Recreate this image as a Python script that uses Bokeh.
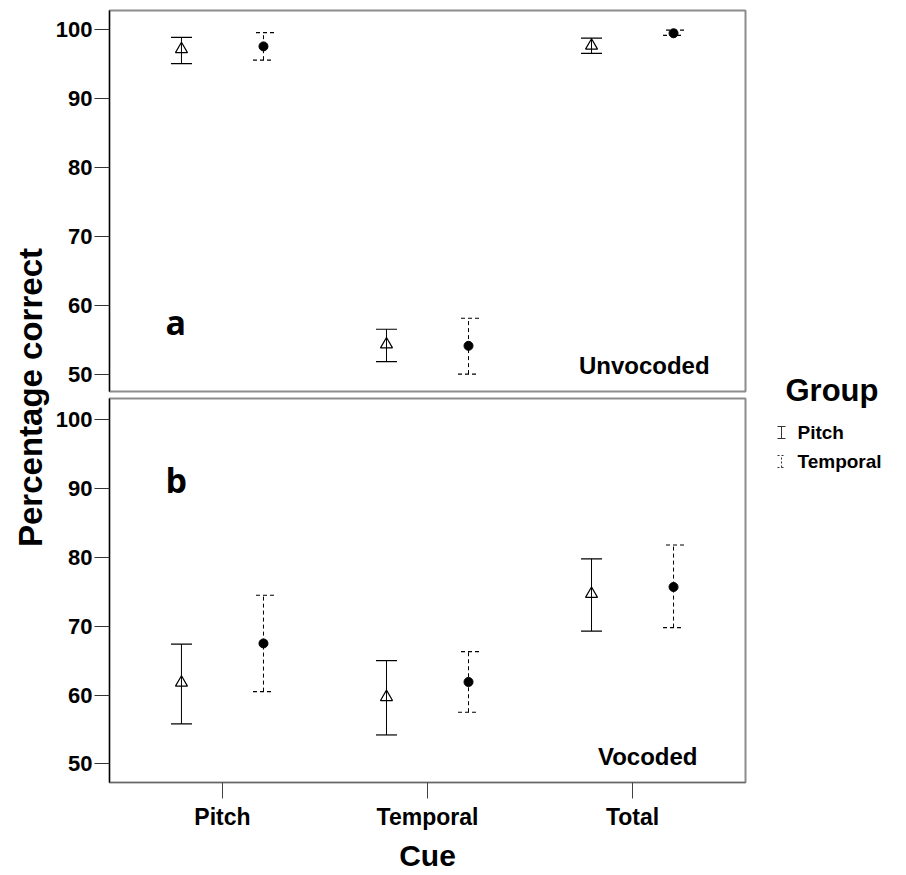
import math
from bokeh.plotting import figure
from bokeh.models import ColumnDataSource, Range1d, FixedTicker, Whisker, TeeHead, Label
from bokeh.layouts import row, column
from bokeh.embed import file_html
from bokeh.resources import INLINE

# ---------------- data ----------------
cues = ["Pitch", "Temporal", "Total"]
groups = ["Pitch", "Temporal"]
y_ticks = [50, 60, 70, 80, 90, 100]

# Panel a: Unvocoded
unv_pitch_mean = [97.2, 54.4, 97.7]
unv_pitch_lower = [95.1, 51.9, 96.6]
unv_pitch_upper = [98.9, 56.6, 98.8]
unv_temp_mean = [97.6, 54.2, 99.5]
unv_temp_lower = [95.6, 50.1, 99.2]
unv_temp_upper = [99.6, 58.2, 99.95]

# Panel b: Vocoded
voc_pitch_mean = [61.8, 59.7, 74.7]
voc_pitch_lower = [55.8, 54.2, 69.3]
voc_pitch_upper = [67.4, 65.0, 79.8]
voc_temp_mean = [67.5, 61.9, 75.7]
voc_temp_lower = [60.5, 57.5, 69.8]
voc_temp_upper = [74.5, 66.3, 81.8]

# ---------------- style ----------------
FONT = "Liberation Sans"
OUTLINE = "#8c8c8c"
OFFSET = 0.2
TOP_H = 394
BOT_H = 480
TOTAL_H = TOP_H + BOT_H


def make_panel(height, b_top, b_bottom, y0, y1, pitch, temp, show_x):
    p = figure(width=695, height=height, x_range=Range1d(-0.551, 2.551),
               y_range=Range1d(y0, y1), output_backend="svg",
               toolbar_location=None, tools="", title=None,
               x_axis_location="below" if show_x else None,
               min_border=0, min_border_left=57, min_border_right=2,
               min_border_top=b_top, min_border_bottom=b_bottom)
    p.outline_line_color = OUTLINE
    p.outline_line_width = 2
    p.xgrid.visible = False
    p.ygrid.visible = False
    p.background_fill_color = "white"
    p.border_fill_color = "white"

    ya = p.yaxis[0]
    ya.ticker = FixedTicker(ticks=y_ticks)
    ya.major_label_text_font = FONT
    ya.major_label_text_font_style = "bold"
    ya.major_label_text_font_size = "22px"
    ya.major_label_text_color = "black"
    ya.major_tick_out = 15
    ya.major_tick_in = 0
    ya.minor_tick_out = 0
    ya.minor_tick_in = 0
    ya.major_label_standoff = 2
    ya.axis_line_color = "black"
    ya.axis_line_width = 1.2
    ya.major_tick_line_color = "#333333"

    if show_x:
        xa = p.xaxis[0]
        xa.ticker = FixedTicker(ticks=list(range(len(cues))))
        xa.major_label_overrides = {i: c for i, c in enumerate(cues)}
        xa.major_label_text_font = FONT
        xa.major_label_text_font_style = "bold"
        xa.major_label_text_font_size = "23px"
        xa.major_label_text_color = "black"
        xa.major_tick_out = 16
        xa.major_tick_in = 0
        xa.minor_tick_out = 0
        xa.minor_tick_in = 0
        xa.major_label_standoff = 5
        xa.axis_line_color = "#666666"
        xa.major_tick_line_color = "#444444"
        xa.axis_label = "Cue"
        xa.axis_label_text_font = FONT
        xa.axis_label_text_font_style = "bold"
        xa.axis_label_text_font_size = "30px"
        xa.axis_label_text_color = "black"
        xa.axis_label_standoff = 6

    for (mean, lo, hi), off, dash, marker in [
        (pitch, -OFFSET, "solid", "triangle"),
        (temp, OFFSET, "4 3", "circle"),
    ]:
        src = ColumnDataSource(dict(
            x=[i + off for i in range(len(cues))], mean=mean, lower=lo, upper=hi))
        w = Whisker(base="x", upper="upper", lower="lower", source=src,
                    dimension="height", line_color="black", line_width=1,
                    line_dash=dash,
                    upper_head=TeeHead(size=21, line_color="black", line_width=1.2, line_dash=dash),
                    lower_head=TeeHead(size=21, line_color="black", line_width=1.2, line_dash=dash))
        p.add_layout(w)
        if marker == "triangle":
            p.scatter("x", "mean", source=src, marker="triangle", size=12,
                      fill_color=None, line_color="black", line_width=1.2)
        else:
            p.scatter("x", "mean", source=src, marker="circle", size=9,
                      fill_color="black", line_color="black")
    return p


top = make_panel(TOP_H, 10, 3, 47.58, 102.8,
                 (unv_pitch_mean, unv_pitch_lower, unv_pitch_upper),
                 (unv_temp_mean, unv_temp_lower, unv_temp_upper), False)
bottom = make_panel(BOT_H, 4, BOT_H - 4 - 385, 47.29, 103.09,
                    (voc_pitch_mean, voc_pitch_lower, voc_pitch_upper),
                    (voc_temp_mean, voc_temp_lower, voc_temp_upper), True)

top.add_layout(Label(x=-0.278, y=57.7, text="a", text_font="Open Sans",
                     text_font_style="bold", text_font_size="34px", text_color="black",
                     text_align="left", text_baseline="alphabetic"))
top.add_layout(Label(x=2.376, y=51.4, text="Unvocoded", text_font=FONT,
                     text_font_style="bold", text_font_size="24px", text_color="black",
                     text_align="right", text_baseline="alphabetic"))
bottom.add_layout(Label(x=-0.278, y=91.3, text="b", text_font="Open Sans",
                        text_font_style="bold", text_font_size="34px", text_color="black",
                        text_align="left", text_baseline="alphabetic"))
bottom.add_layout(Label(x=2.317, y=51.1, text="Vocoded", text_font=FONT,
                        text_font_style="bold", text_font_size="24px", text_color="black",
                        text_align="right", text_baseline="alphabetic"))


def blank(width):
    f = figure(width=width, height=TOTAL_H, x_range=Range1d(0, width),
               y_range=Range1d(0, TOTAL_H), output_backend="svg",
               toolbar_location=None, tools="", title=None,
               x_axis_location=None, y_axis_location=None, min_border=0)
    f.outline_line_color = None
    f.xgrid.visible = False
    f.ygrid.visible = False
    return f


# y-axis title column
lab = blank(52)
lab.add_layout(Label(x=30, y=TOTAL_H - 397, text="Percentage correct", angle=math.pi / 2,
                     text_font=FONT, text_font_style="bold", text_font_size="33px",
                     text_color="black", text_align="center", text_baseline="middle"))

# legend column
leg = blank(151)
leg.add_layout(Label(x=38, y=TOTAL_H - 390, text="Group", text_font=FONT,
                     text_font_style="bold", text_font_size="31px", text_color="black",
                     text_align="left", text_baseline="middle"))
dashes = ["solid", "2 2"]
for i, g in enumerate(groups):
    yc = TOTAL_H - (432 + 29 * i)
    leg.segment(x0=[34, 30, 30], y0=[yc - 6, yc - 6, yc + 6],
                x1=[34, 38, 38], y1=[yc + 6, yc - 6, yc + 6],
                line_color="#333333", line_width=1, line_dash=dashes[i])
    leg.add_layout(Label(x=50, y=yc, text=g, text_font=FONT, text_font_style="bold",
                         text_font_size="19px", text_color="black",
                         text_align="left", text_baseline="middle"))

layout = row(lab, column(top, bottom), leg)
open("out.html", "w").write(file_html(layout, INLINE))
